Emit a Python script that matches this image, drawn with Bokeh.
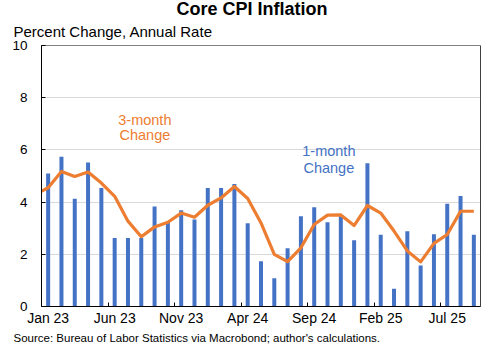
from bokeh.plotting import figure
from bokeh.models import Range1d, FixedTicker, Label, ColumnDataSource, Title, Span
from bokeh.embed import file_html
from bokeh.resources import INLINE

# ---- data ----
months = ["Jan 23", "Feb 23", "Mar 23", "Apr 23", "May 23", "Jun 23", "Jul 23", "Aug 23",
          "Sep 23", "Oct 23", "Nov 23", "Dec 23", "Jan 24", "Feb 24", "Mar 24", "Apr 24",
          "May 24", "Jun 24", "Jul 24", "Aug 24", "Sep 24", "Oct 24", "Nov 24", "Dec 24",
          "Jan 25", "Feb 25", "Mar 25", "Apr 25", "May 25", "Jun 25", "Jul 25", "Aug 25",
          "Sep 25"]
one_month = [5.10, 5.74, 4.13, 5.52, 4.54, 2.62, 2.62, 2.62, 3.83, 3.23, 3.69, 3.33,
             4.54, 4.54, 4.69, 3.19, 1.73, 1.08, 2.23, 3.46, 3.80, 3.23, 3.46, 2.54,
             5.49, 2.75, 0.68, 2.88, 1.57, 2.77, 3.94, 4.23, 2.75]
three_month_dec22 = 4.28
three_month = [4.55, 5.17, 4.98, 5.15, 4.73, 4.22, 3.27, 2.67, 3.05, 3.23, 3.58, 3.42,
               3.88, 4.16, 4.60, 4.14, 3.20, 2.00, 1.72, 2.25, 3.14, 3.50, 3.51, 3.10,
               3.87, 3.58, 2.89, 2.13, 1.71, 2.42, 2.76, 3.65, 3.65]
tick_labels = ["Jan 23", "Jun 23", "Nov 23", "Apr 24", "Sep 24", "Feb 25", "Jul 25"]
y_ticks = [0, 2, 4, 6, 8, 10]

BLUE = "#4472C4"
ORANGE = "#ED7D31"
FONT = "Liberation Sans"

idx = list(range(len(months)))
bars = ColumnDataSource(dict(x=idx, y=one_month))
line = ColumnDataSource(dict(x=[-1] + idx, y=[three_month_dec22] + three_month))

x_lo, x_hi = -0.5, len(months) - 0.5
p = figure(width=488, height=344, output_backend="svg", toolbar_location=None,
           x_range=Range1d(x_lo, x_hi), y_range=Range1d(0, 10),
           min_border_left=41, min_border_right=8, min_border_top=0, min_border_bottom=0)
p.background_fill_color = "white"
p.border_fill_color = "white"
p.outline_line_color = "#808080"
p.outline_line_width = 1

p.vbar(x="x", top="y", width=0.3, source=bars, color=BLUE, line_color=None)
p.line(x="x", y="y", source=line, color=ORANGE, line_width=3.2, line_join="round")
p.add_layout(Span(location=x_hi, dimension="height", line_color="black", line_width=1))

# axes
tick_pos = [months.index(t) for t in tick_labels]
minor = [t - 0.5 for t in tick_pos[1:]]
p.xaxis.ticker = FixedTicker(ticks=tick_pos, minor_ticks=minor)
p.xaxis.major_label_overrides = {t: l for t, l in zip(tick_pos, tick_labels)}
p.xaxis.major_tick_line_color = None
p.xaxis.major_tick_in = 0
p.xaxis.major_tick_out = 0
p.xaxis.minor_tick_in = 4
p.xaxis.minor_tick_out = 0
p.xaxis.minor_tick_line_color = "black"
p.xaxis.axis_line_color = "black"
p.xaxis.major_label_text_font = FONT
p.xaxis.major_label_text_font_size = "14px"
p.xaxis.major_label_text_color = "black"
p.xaxis.major_label_standoff = 3

p.yaxis.ticker = FixedTicker(ticks=y_ticks)
p.yaxis.major_tick_in = 4
p.yaxis.major_tick_out = 0
p.yaxis.minor_tick_line_color = None
p.yaxis.major_tick_line_color = "black"
p.yaxis.axis_line_color = "black"
p.yaxis.major_label_text_font = FONT
p.yaxis.major_label_text_font_size = "13.5px"
p.yaxis.major_label_text_color = "black"
p.yaxis.major_label_standoff = 14

p.xgrid.grid_line_color = None
p.ygrid.ticker = FixedTicker(ticks=y_ticks)
p.ygrid.grid_line_color = "#D9D9D9"

# titles (stacked outward from the frame)
p.add_layout(Title(text="Percent Change, Annual Rate", align="left", offset=-28, standoff=12,
                   text_font=FONT, text_font_size="15px", text_font_style="normal",
                   text_color="black"), "above")
p.add_layout(Title(text="Core CPI Inflation", align="left", offset=135, standoff=-8,
                   text_font=FONT, text_font_size="18px", text_font_style="bold",
                   text_color="black"), "above")
p.add_layout(Title(text="Source: Bureau of Labor Statistics via Macrobond; author's calculations.",
                   align="left", offset=-28, standoff=2, text_font=FONT,
                   text_font_size="11.5px", text_font_style="normal", text_color="black"), "below")

for txt, xx, yy, col in [("3-month", 7.27, 7.15, ORANGE), ("Change", 7.27, 6.59, ORANGE),
                         ("1-month", 21.1, 5.96, BLUE), ("Change", 21.1, 5.30, BLUE)]:
    p.add_layout(Label(x=xx, y=yy, text=txt, text_align="center", text_baseline="alphabetic",
                       text_font=FONT, text_font_size="14.5px", text_color=col))

open("out.html", "w").write(file_html(p, INLINE))
